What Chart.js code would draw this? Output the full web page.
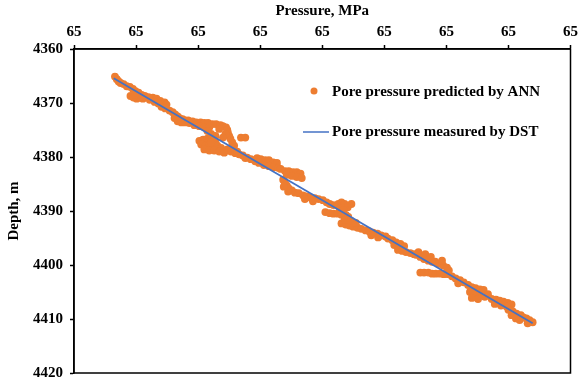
<!DOCTYPE html>
<html>
<head>
<meta charset="utf-8">
<script src="https://cdn.jsdelivr.net/npm/chart.js@4.4.1/dist/chart.umd.min.js"></script>
<style>
  body { margin: 0; background: #fff; }
  canvas { display: block; }
</style>
</head>
<body>
<canvas id="grafico-presion" width="582" height="389"></canvas>
<script>
// Pore pressure predicted by ANN (pressure, MPa / depth, m)
const annPressure = [
    64.666, 64.669, 64.672, 64.675, 64.680, 64.685, 64.690, 64.695, 64.699, 64.704, 64.709,
    64.691, 64.696, 64.701, 64.706, 64.711, 64.698,
    64.714, 64.720, 64.727, 64.733, 64.739, 64.746, 64.749, 64.722, 64.730, 64.736,
    64.741, 64.747, 64.754, 64.759, 64.763, 64.767, 64.770, 64.775, 64.779, 64.762, 64.767, 64.773, 64.779,
    64.784, 64.791, 64.797, 64.804, 64.810, 64.816, 64.823, 64.829, 64.836, 64.840, 64.845,
    64.794, 64.802, 64.810, 64.818, 64.786,
    64.847, 64.848, 64.850, 64.852, 64.844, 64.840, 64.855, 64.858, 64.853,
    64.815, 64.821, 64.828, 64.834,
    64.869, 64.876,
    64.802, 64.808, 64.815, 64.821, 64.828, 64.805, 64.812, 64.818, 64.824, 64.831, 64.837,
    64.810, 64.818, 64.826, 64.834, 64.842, 64.821,
    64.847, 64.853, 64.860, 64.866, 64.872, 64.879, 64.885, 64.892, 64.863, 64.876,
    64.895, 64.901, 64.908, 64.914, 64.921, 64.927, 64.898, 64.906, 64.914, 64.922, 64.929,
    64.933, 64.940, 64.946, 64.953, 64.959, 64.965, 64.943, 64.951, 64.959, 64.967,
    64.937, 64.940, 64.943, 64.946, 64.951, 64.956, 64.938, 64.945,
    64.962, 64.969, 64.975, 64.981, 64.988, 64.994, 65.001, 65.007, 64.972, 64.985,
    65.012, 65.018, 65.026, 65.031, 65.036, 65.041, 65.047, 65.028, 65.034,
    65.005, 65.012, 65.018, 65.025, 65.031, 65.038, 65.042,
    65.031, 65.038, 65.044, 65.050, 65.057, 65.063, 65.036, 65.046, 65.054,
    65.070, 65.076, 65.082, 65.089, 65.095, 65.102, 65.079, 65.090,
    65.106, 65.113, 65.119, 65.126, 65.132, 65.116, 65.124,
    65.122, 65.129, 65.135, 65.142, 65.148,
    65.151, 65.158, 65.164, 65.171, 65.177, 65.155, 65.166, 65.175,
    65.182, 65.188, 65.195, 65.201, 65.204, 65.193,
    65.158, 65.164, 65.171, 65.177, 65.183, 65.190, 65.196, 65.203,
    65.209, 65.215, 65.222, 65.228, 65.219,
    65.235, 65.241, 65.247, 65.254, 65.260, 65.238, 65.246, 65.254, 65.262, 65.241, 65.251, 65.267,
    65.273, 65.280, 65.286, 65.292, 65.299, 65.305, 65.278, 65.288, 65.297,
    65.300, 65.307, 65.313, 65.320, 65.305, 65.312, 65.318, 65.324,
    65.329, 65.334, 65.339, 65.331
];
const annDepth = [
    4365.1, 4365.6, 4366.0, 4366.3, 4366.5, 4366.9, 4367.0, 4367.4, 4367.8, 4368.1, 4368.5,
    4368.7, 4369.0, 4369.2, 4369.0, 4369.2, 4368.5,
    4368.7, 4368.9, 4369.0, 4369.2, 4369.6, 4369.9, 4370.3, 4369.4, 4369.8, 4370.1,
    4370.7, 4371.0, 4371.4, 4371.7, 4372.1, 4372.5, 4372.8, 4373.0, 4373.2, 4372.8, 4373.4, 4373.6, 4373.6,
    4373.2, 4373.4, 4373.6, 4373.6, 4373.7, 4373.7, 4373.9, 4373.9, 4374.1, 4374.3, 4374.5,
    4374.1, 4374.3, 4374.5, 4374.5, 4373.7,
    4375.0, 4375.5, 4376.1, 4376.6, 4375.7, 4376.4, 4377.3, 4377.9, 4378.3,
    4375.2, 4375.7, 4376.1, 4374.8,
    4376.4, 4376.4,
    4377.0, 4376.8, 4376.6, 4377.0, 4377.3, 4377.7, 4377.9, 4377.7, 4378.1, 4377.9, 4378.3,
    4378.6, 4378.8, 4378.8, 4379.0, 4379.2, 4377.3,
    4378.6, 4379.0, 4379.3, 4379.5, 4379.7, 4380.1, 4380.4, 4380.8, 4379.0, 4380.2,
    4380.2, 4380.4, 4380.6, 4380.6, 4381.0, 4381.1, 4381.1, 4381.5, 4381.7, 4381.9, 4382.0,
    4382.2, 4382.6, 4382.6, 4382.8, 4382.8, 4383.1, 4383.3, 4383.5, 4383.7, 4383.9,
    4384.2, 4384.8, 4385.3, 4385.8, 4386.2, 4386.6, 4385.5, 4386.4,
    4386.7, 4387.1, 4387.3, 4387.5, 4387.6, 4387.8, 4388.0, 4388.4, 4387.8, 4388.2,
    4388.7, 4388.9, 4388.7, 4388.4, 4388.7, 4389.3, 4388.7, 4389.5, 4389.8,
    4390.2, 4390.4, 4390.5, 4390.5, 4390.7, 4390.7, 4391.1,
    4392.3, 4392.5, 4392.7, 4392.9, 4393.1, 4393.3, 4391.6, 4391.8, 4392.2,
    4393.6, 4393.8, 4394.0, 4394.2, 4394.5, 4394.7, 4394.5, 4394.9,
    4395.1, 4395.4, 4395.8, 4396.1, 4396.5, 4396.3, 4396.7,
    4397.2, 4397.4, 4397.6, 4397.8, 4398.0,
    4398.1, 4398.5, 4398.9, 4399.2, 4399.4, 4397.6, 4398.0, 4398.5,
    4399.4, 4399.8, 4400.1, 4400.5, 4401.0, 4399.2,
    4401.4, 4401.4, 4401.4, 4401.6, 4401.6, 4401.6, 4401.7, 4401.7,
    4402.1, 4402.5, 4402.8, 4403.2, 4403.4,
    4403.7, 4404.1, 4404.3, 4404.5, 4404.6, 4405.0, 4405.4, 4405.7, 4405.9, 4406.1, 4406.3, 4405.4,
    4406.3, 4406.4, 4406.6, 4406.8, 4407.0, 4407.3, 4407.2, 4407.5, 4407.7,
    4408.3, 4408.6, 4409.0, 4409.3, 4409.3, 4409.9, 4410.2, 4409.7,
    4409.9, 4410.2, 4410.6, 4410.8
];

// Pore pressure measured by DST
const dstPressure = [64.664, 65.339];
const dstDepth = [4365.4, 4410.8];

// Etiquetas de los ejes (la presión aparece redondeada a 65 en el original)
const xTickValues = [64.6, 64.7, 64.8, 64.9, 65.0, 65.1, 65.2, 65.3, 65.4];
const xTickLabels = ['65', '65', '65', '65', '65', '65', '65', '65', '65'];
const yTickValues = [4360, 4370, 4380, 4390, 4400, 4410, 4420];
const yTickLabels = ['4360', '4370', '4380', '4390', '4400', '4410', '4420'];

const fuente = { family: '"Liberation Serif", "Times New Roman", serif', size: 15, weight: 'bold' };

// Busca la etiqueta del valor más cercano
function etiqueta(valores, etiquetas, v) {
    let mejor = 0;
    valores.forEach((t, i) => {
        if (Math.abs(t - v) < Math.abs(valores[mejor] - v)) mejor = i;
    });
    return etiquetas[mejor];
}

// Cuadro completo alrededor del área del gráfico
const marcoPlugin = {
    id: 'marco',
    afterDatasetsDraw(chart) {
        const { ctx, chartArea: a } = chart;
        ctx.save();
        ctx.strokeStyle = '#000';
        ctx.lineWidth = 1.5;
        ctx.strokeRect(a.left, a.top, a.right - a.left, a.bottom - a.top);
        ctx.restore();
    }
};

// Leyenda dentro del área del gráfico
const leyendaPlugin = {
    id: 'leyendaInterna',
    afterDraw(chart) {
        const { ctx } = chart;
        const ds = chart.data.datasets;
        ctx.save();
        ctx.font = 'bold 15px "Liberation Serif", "Times New Roman", serif';
        ctx.textBaseline = 'middle';

        // puntos
        ctx.beginPath();
        ctx.fillStyle = ds[0].backgroundColor;
        ctx.arc(314, 91, 3.5, 0, Math.PI * 2);
        ctx.fill();
        ctx.fillStyle = '#000';
        ctx.fillText(ds[0].label, 332, 92);

        // línea
        ctx.beginPath();
        ctx.strokeStyle = ds[1].borderColor;
        ctx.lineWidth = 1.5;
        ctx.moveTo(303, 132);
        ctx.lineTo(329, 132);
        ctx.stroke();
        ctx.fillText(ds[1].label, 332, 132);
        ctx.restore();
    }
};

const ctx = document.getElementById('grafico-presion').getContext('2d');
new Chart(ctx, {
    type: 'scatter',
    data: {
        datasets: [{
            label: 'Pore pressure predicted by ANN',
            data: annPressure.map((p, i) => ({ x: p, y: annDepth[i] })),
            backgroundColor: '#ED7D31',
            borderWidth: 0,
            pointRadius: 3.9,
            order: 1
        }, {
            label: 'Pore pressure measured by DST',
            data: dstPressure.map((p, i) => ({ x: p, y: dstDepth[i] })),
            showLine: true,
            borderColor: '#4472C4',
            borderWidth: 1.8,
            pointRadius: 0,
            order: 0
        }]
    },
    options: {
        responsive: false,
        animation: false,
        layout: { padding: { top: 0, left: 0, right: 9, bottom: 8 } },
        plugins: {
            legend: { display: false },
            tooltip: { enabled: false }
        },
        scales: {
            x: {
                type: 'linear',
                position: 'top',
                min: xTickValues[0],
                max: xTickValues[xTickValues.length - 1],
                afterFit: (scale) => { scale.height = 49; },
                ticks: {
                    stepSize: 0.1,
                    autoSkip: false,
                    maxRotation: 0,
                    padding: 4,
                    color: '#000',
                    font: fuente,
                    callback: (v) => etiqueta(xTickValues, xTickLabels, v)
                },
                grid: { drawOnChartArea: false, tickLength: 4, tickColor: '#000', tickWidth: 1.5 },
                border: { color: '#000', width: 1.5 },
                title: {
                    display: true,
                    text: 'Pressure, MPa',
                    color: '#000',
                    font: fuente,
                    padding: { top: 2, bottom: 0 }
                }
            },
            y: {
                type: 'linear',
                reverse: true,
                min: yTickValues[0],
                max: yTickValues[yTickValues.length - 1],
                afterFit: (scale) => { scale.width = 74; },
                ticks: {
                    stepSize: 10,
                    padding: 7,
                    color: '#000',
                    font: fuente,
                    callback: (v) => etiqueta(yTickValues, yTickLabels, v)
                },
                grid: { drawOnChartArea: false, tickLength: 4, tickColor: '#000', tickWidth: 1.5 },
                border: { color: '#000', width: 1.5 },
                title: {
                    display: true,
                    text: 'Depth, m',
                    color: '#000',
                    font: fuente,
                    padding: { top: 5, bottom: 0 }
                }
            }
        }
    },
    plugins: [marcoPlugin, leyendaPlugin]
});
</script>
</body>
</html>
